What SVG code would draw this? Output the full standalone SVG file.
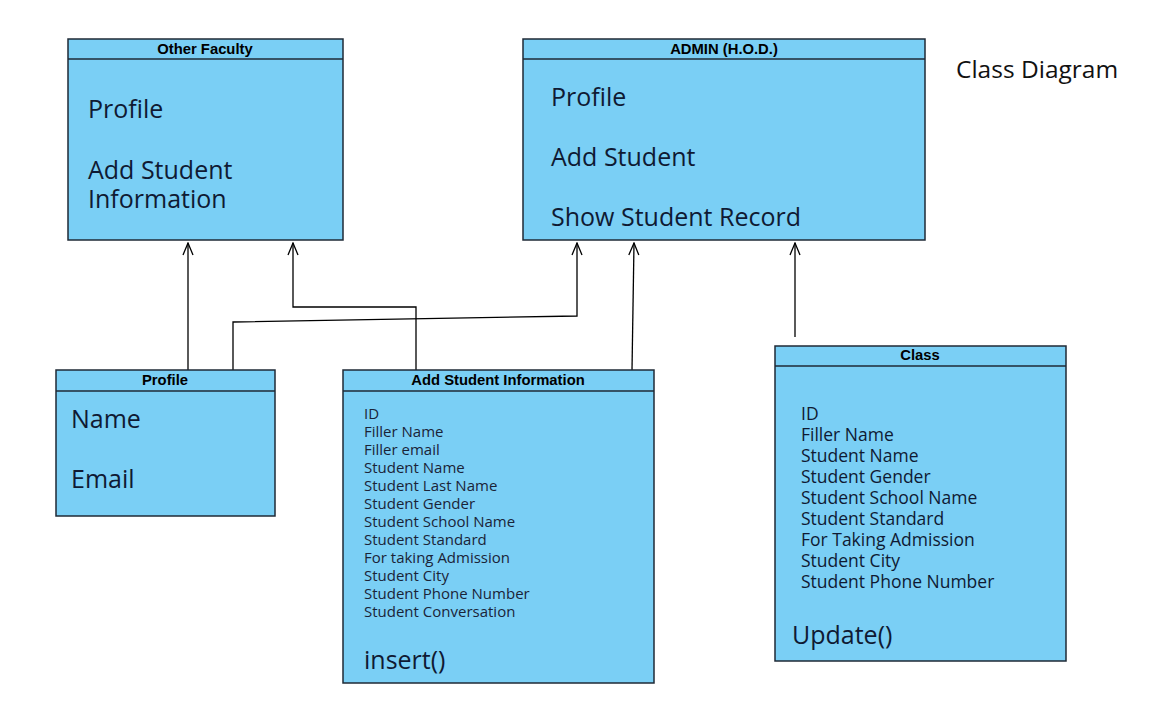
<svg xmlns="http://www.w3.org/2000/svg" width="1170" height="716" viewBox="0 0 1170 716">
<style>
.box{fill:#7acff5;stroke:#1f2a36;stroke-width:1.5}
.hl{stroke:#1f2a36;stroke-width:1.5}
.ttl{font-family:"Liberation Sans",Arial,sans-serif;font-weight:bold;font-size:14.8px;fill:#000;text-anchor:middle}
.big{font-family:"Open Sans","Noto Sans",sans-serif;font-size:25px;fill:#0f1a33}
.sm{font-family:"Open Sans","Noto Sans",sans-serif;font-size:15px;fill:#1a2438}
.md{font-family:"Open Sans","Noto Sans",sans-serif;font-size:17.5px;fill:#0f1a33}
.cn{fill:none;stroke:#000;stroke-width:1.3}
</style>
<defs>
<marker id="arr" viewBox="0 0 14 12" refX="13" refY="6" markerWidth="14" markerHeight="12" markerUnits="userSpaceOnUse" orient="auto">
<path d="M1,1 L13,6 L1,11" fill="none" stroke="#000" stroke-width="1.3"/>
</marker>
</defs>
<rect width="1170" height="716" fill="#fff"/>
<g id="connectors">
<path class="cn" d="M188,370 V243" marker-end="url(#arr)"/>
<path class="cn" d="M416,370 V307 H293 V243" marker-end="url(#arr)"/>
<path class="cn" d="M233,370 V322 L577,316 V243" marker-end="url(#arr)"/>
<path class="cn" d="M632,370 L634,243" marker-end="url(#arr)"/>
<path class="cn" d="M795,337 V243" marker-end="url(#arr)"/>
</g>
<g id="other-faculty">
<rect class="box" x="68" y="39" width="275" height="201"/>
<line class="hl" x1="68" y1="59" x2="343" y2="59"/>
<text class="ttl" x="205" y="54">Other Faculty</text>
<text class="big" x="88" y="118">Profile</text>
<text class="big" x="88" y="179">Add Student</text>
<text class="big" x="88" y="208">Information</text>
</g>
<g id="admin">
<rect class="box" x="523" y="39" width="402" height="201"/>
<line class="hl" x1="523" y1="59" x2="925" y2="59"/>
<text class="ttl" x="724" y="54">ADMIN (H.O.D.)</text>
<text class="big" x="551" y="106">Profile</text>
<text class="big" x="551" y="166">Add Student</text>
<text class="big" x="551" y="226">Show Student Record</text>
</g>
<text id="title" x="956" y="78" font-family="Open Sans,Noto Sans,sans-serif" font-size="24.5" fill="#111">Class Diagram</text>
<g id="profile">
<rect class="box" x="56" y="370" width="219" height="146"/>
<line class="hl" x1="56" y1="391" x2="275" y2="391"/>
<text class="ttl" x="165" y="385">Profile</text>
<text class="big" x="71" y="428">Name</text>
<text class="big" x="71" y="488">Email</text>
</g>
<g id="add-student-information">
<rect class="box" x="343" y="370" width="311" height="313"/>
<line class="hl" x1="343" y1="391" x2="654" y2="391"/>
<text class="ttl" x="498" y="385">Add Student Information</text>
<text class="sm" x="364" y="419">ID</text>
<text class="sm" x="364" y="437">Filler Name</text>
<text class="sm" x="364" y="455">Filler email</text>
<text class="sm" x="364" y="473">Student Name</text>
<text class="sm" x="364" y="491">Student Last Name</text>
<text class="sm" x="364" y="509">Student Gender</text>
<text class="sm" x="364" y="527">Student School Name</text>
<text class="sm" x="364" y="545">Student Standard</text>
<text class="sm" x="364" y="563">For taking Admission</text>
<text class="sm" x="364" y="581">Student City</text>
<text class="sm" x="364" y="599">Student Phone Number</text>
<text class="sm" x="364" y="617">Student Conversation</text>
<text class="big" x="364" y="669">insert()</text>
</g>
<g id="class">
<rect class="box" x="775" y="346" width="291" height="315"/>
<line class="hl" x1="775" y1="366" x2="1066" y2="366"/>
<text class="ttl" x="920" y="360">Class</text>
<text class="md" x="801" y="420">ID</text>
<text class="md" x="801" y="441">Filler Name</text>
<text class="md" x="801" y="462">Student Name</text>
<text class="md" x="801" y="483">Student Gender</text>
<text class="md" x="801" y="504">Student School Name</text>
<text class="md" x="801" y="525">Student Standard</text>
<text class="md" x="801" y="546">For Taking Admission</text>
<text class="md" x="801" y="567">Student City</text>
<text class="md" x="801" y="588">Student Phone Number</text>
<text class="big" x="792" y="644">Update()</text>
</g>
</svg>
